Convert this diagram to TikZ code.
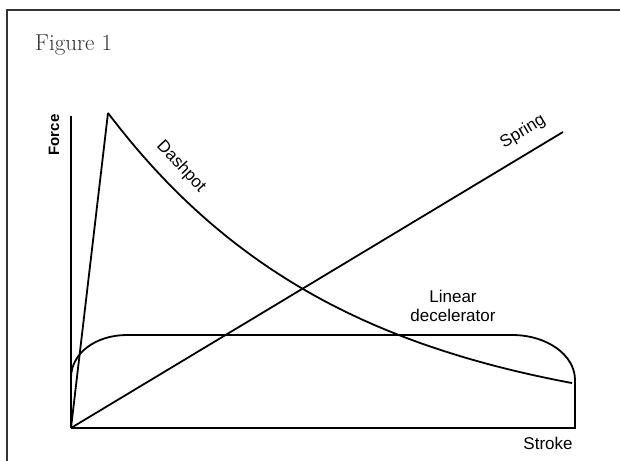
\documentclass[tikz,border=0pt]{standalone}
\usepackage{fontspec}
\setsansfont{Liberation Sans}
\usepackage{tikz}

\tikzset{
  curve/.style={line width=1.8pt, black},
  axis/.style={line width=2.4pt, black},
  lab/.style={font=\sffamily\fontsize{17}{19}\selectfont, inner sep=0pt}
}

\begin{document}
\begin{tikzpicture}[x=1pt, y=1pt]
            
            \useasboundingbox (-71,-32) rectangle (549,428);
            
            % Frame
            
            \draw[line width=2.5pt, black!80] (-64,-40) -- (-64,418) -- (560,418);
            \node[anchor=west, inner sep=0pt, text=black!80, font=\fontsize{23}{26}\selectfont] (title) at (-36,383) {Figure 1};
            
            % Axes
            
            \coordinate (o) at (0,0);
            \coordinate (ytop) at (0,312);
            \coordinate (xend) at (504,0);
            \coordinate (xtop) at (504,48);
            \draw[curve] (o) -- (ytop);
            \draw[axis] (o) -- (xend) -- (xtop);
            
            % Curves
            
            \coordinate (peak) at (37,315);
            \coordinate (send) at (492,296);
            \draw[curve] (o) -- (peak);
            \draw[curve] plot[domain=37:501, samples=80] (\x, {315*exp(-0.0042*(\x-37))});
            \draw[curve] (o) -- (send);
            \draw[curve] (0,50) .. controls (0,75) and (25,93) .. (56,93) -- (441,93)
              .. controls (476,93) and (504,73) .. (xtop);
            
            % Labels
            
            \node[lab, font=\sffamily\bfseries\fontsize{15}{17}\selectfont, rotate=90] (force) at (-17,293) {Force};
            \node[lab, rotate=-47] (dashpot) at (110,261) {Dashpot};
            \node[lab, rotate=31] (spring) at (452,296) {Spring};
            \node[lab, align=center] (lindec) at (382,122) {Linear\\decelerator};
            \node[lab] (stroke) at (477,-15) {Stroke};
            
\end{tikzpicture}
\end{document}
